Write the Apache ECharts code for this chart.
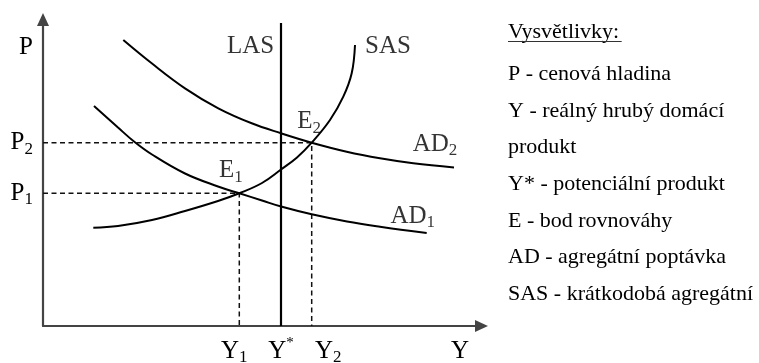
<!DOCTYPE html>
<html>
<head>
<meta charset="utf-8">
<title>AD - AS</title>
<script src="https://cdn.jsdelivr.net/npm/echarts@6/dist/echarts.min.js"></script>
<style>
  html, body { margin: 0; padding: 0; background: #fff; }
  #chart { width: 759px; height: 363px; }
</style>
</head>
<body>
<div id="chart"></div>
<script>
// units: px measured from the origin of the axes in the picture
const ad1X = [51, 75, 91, 109, 142, 175, 196.3, 219, 239, 268.7, 304, 337, 383.7];
const ad1Y = [220, 198.5, 184.5, 171.5, 152.5, 139.5, 132.7, 125.5, 119.2, 111.7, 104.5, 99.3, 93];

const ad2X = [80.3, 108.7, 142, 175.3, 208.7, 238, 268.7, 303.7, 337, 370.3, 411];
const ad2Y = [286, 262.7, 237.7, 217.7, 202.7, 192.7, 183.3, 174.3, 167.7, 162.7, 158.5];

const sasX = [50.3, 75, 109, 142, 175, 196.3, 219, 238, 254, 268.7, 287, 300.3, 308.7, 312];
const sasY = [98.3, 100, 106, 115, 125, 132.7, 143, 156.5, 168.5, 183.3, 206, 229.3, 252.7, 281];

const lasX = 238;
const lasTop = 303;

// equilibria
const e1 = [196.3, 132.7];
const e2 = [268.7, 183.3];

// tick labels
const xTickValues = [196.3, 238, 268.7, 417];
const xTickLabels = ['Y1', 'Y*', 'Y2', 'Y'];
const yTickValues = [132.7, 183.3, 279];
const yTickLabels = ['P1', 'P2', 'P'];

const noteTitle = 'Vysvětlivky:';
const notes = [
  'P - cenová hladina',
  'Y - reálný hrubý domácí',
  'produkt',
  'Y* - potenciální produkt',
  'E - bod rovnováhy',
  'AD - agregátní poptávka',
  'SAS - krátkodobá agregátní'
];

const serif = '"Liberation Serif", "Times New Roman", serif';
const ink = '#000';

const rich = {
  m: { fontFamily: serif, fontSize: 25, lineHeight: 30, color: ink, verticalAlign: 'middle' },
  mr: { fontFamily: serif, fontSize: 25, lineHeight: 30, color: ink, verticalAlign: 'middle', padding: [0, 0, 0, 33] },
  s: { fontFamily: serif, fontSize: 17, lineHeight: 16, color: ink, verticalAlign: 'bottom' },
  sl: { fontFamily: serif, fontSize: 17, lineHeight: 16, color: ink, verticalAlign: 'bottom', padding: [0, 10, 0, 0] },
  u: { fontFamily: serif, fontSize: 15, lineHeight: 16, color: ink, verticalAlign: 'top' }
};

function richLabel(txt) {
  const base = txt.replace(/[0-9*]+$/, '');
  const tail = txt.slice(base.length);
  if (!tail) return '{m|' + base + '}';
  if (tail === '*') return '{m|' + base + '}{u|*}';
  return '{m|' + base + '}{s|' + tail + '}';
}

function pick(values, labels, v) {
  let best = 0;
  values.forEach((x, i) => { if (Math.abs(x - v) < Math.abs(values[best] - v)) best = i; });
  return labels[best];
}

function pairs(xs, ys) {
  return xs.map((x, i) => [x, ys[i]]);
}

const last = (xs, ys) => [xs[xs.length - 1], ys[ys.length - 1]];

const curve = { type: 'line', symbol: 'none', smooth: 0.4, silent: true,
  lineStyle: { color: ink, width: 2 } };
const dashed = { type: 'line', symbol: 'none', silent: true,
  lineStyle: { color: '#111', width: 1.5, type: [5, 3.5] } };

const chart = echarts.init(document.getElementById('chart'));

const option = {
  animation: false,
  backgroundColor: '#fff',
  grid: { left: 43, top: 19.5, width: 438.5, height: 306.5, containLabel: false, outerBoundsMode: 'none' },
  xAxis: {
    type: 'value', min: 0, max: 438.5,
    splitLine: { show: false },
    axisTick: { show: false },
    axisLine: { show: true, symbol: ['none', 'triangle'], symbolSize: [12, 13],
      lineStyle: { color: '#444', width: 2.2 } },
    axisLabel: {
      customValues: xTickValues,
      margin: 10,
      rich: rich,
      formatter: function (v) {
        const t = pick(xTickValues, xTickLabels, v);
        if (t === 'Y1') return '{m|Y}{sl|1}';
        if (t === 'Y2') return '{mr|Y}{s|2}';
        return richLabel(t);
      }
    }
  },
  yAxis: {
    type: 'value', min: 0, max: 306.5,
    splitLine: { show: false },
    axisTick: { show: false },
    axisLine: { show: true, symbol: ['none', 'triangle'], symbolSize: [12, 13],
      lineStyle: { color: '#444', width: 2.2 } },
    axisLabel: {
      customValues: yTickValues,
      margin: 10,
      rich: rich,
      formatter: function (v) { return richLabel(pick(yTickValues, yTickLabels, v)); }
    }
  },
  series: [
    Object.assign({ name: 'E1 guide', data: [[0, e1[1]], e1, [e1[0], 0]] }, dashed),
    Object.assign({ name: 'E2 guide', data: [[0, e2[1]], e2, [e2[0], 0]] }, dashed),
    Object.assign({ name: 'AD1', data: pairs(ad1X, ad1Y) }, curve),
    Object.assign({ name: 'AD2', data: pairs(ad2X, ad2Y) }, curve),
    Object.assign({ name: 'SAS', data: pairs(sasX, sasY) }, curve),
    { name: 'LAS', type: 'line', symbol: 'none', silent: true,
      data: [[lasX, 0], [lasX, lasTop]],
      lineStyle: { color: ink, width: 2.2 } },
    {
      name: 'labels', type: 'scatter', symbolSize: 0, silent: true,
      label: { show: true, position: 'inside', rich: rich },
      data: [
        { value: [lasX, lasTop], label: { formatter: '{m|LAS}', offset: [-30.5, 23.7] } },
        { value: last(sasX, sasY), label: { formatter: '{m|SAS}', offset: [33, 1.7] } },
        { value: last(ad2X, ad2Y), label: { formatter: '{m|AD}{s|2}', offset: [-19, -23.5] } },
        { value: last(ad1X, ad1Y), label: { formatter: '{m|AD}{s|1}', offset: [-14, -16.6] } },
        { value: e1, label: { formatter: '{m|E}{s|1}', offset: [-8.5, -22.6] } },
        { value: e2, label: { formatter: '{m|E}{s|2}', offset: [-2.5, -21] } }
      ]
    }
  ],
  graphic: [
    { type: 'text', x: 508, y: 31.8, silent: true,
      style: { text: noteTitle, font: '22px ' + serif, fill: ink, verticalAlign: 'middle' } },
    { type: 'line', silent: true,
      shape: { x1: 508, y1: 41.5, x2: 621.7, y2: 41.5 },
      style: { stroke: '#333', lineWidth: 1 } }
  ].concat(notes.map((t, i) => ({
    type: 'text', x: 508, y: 74.2 + i * 36.7, silent: true,
    style: { text: t, font: '22px ' + serif, fill: ink, verticalAlign: 'middle' }
  })))
};

chart.setOption(option);
</script>
</body>
</html>
